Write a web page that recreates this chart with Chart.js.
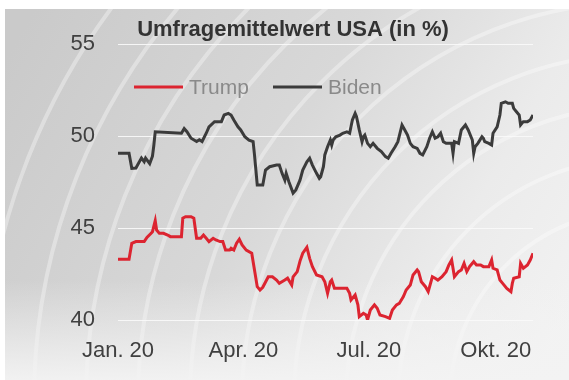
<!DOCTYPE html>
<html>
<head>
<meta charset="utf-8">
<script src="https://cdn.jsdelivr.net/npm/chart.js@4"></script>
<style>
  html, body { margin: 0; padding: 0; background: #fff; }
  #wrap { width: 569px; height: 380px; position: relative; }
</style>
</head>
<body>
<div id="wrap"><canvas id="umfrage" width="569" height="380"></canvas></div>
<script>
// Tage seit 1. Jan. 2020 und Umfragewerte (in %)
const bidenTage = [0,8,10,13,17,19,20,23,25,26,27,46,48,50,53,57,59,61,64,66,70,75,77,80,82,84,87,89,92,95,98,99,101,105,107,110,115,117,119,121,122,124,127,129,132,134,137,139,141,144,146,147,149,150,152,154,155,156,158,161,163,166,168,170,172,173,175,177,178,179,181,183,185,188,191,194,196,198,201,203,206,208,210,212,214,217,219,221,224,226,228,230,232,234,236,238,242,243,244,247,249,252,254,257,258,259,261,264,265,266,269,271,272,275,277,278,281,283,286,287,289,291,292,294,297,299,301];
const bidenWerte = [49.06,49.06,48.24,48.26,48.8,48.6,48.8,48.5,48.9,49.5,50.23,50.15,50.4,50.23,49.88,49.7,49.8,49.7,50.15,50.5,50.78,50.78,51.14,51.23,51.14,50.87,50.5,50.33,49.96,49.78,49.7,48.97,47.34,47.34,48.15,48.33,48.42,48.42,47.97,47.6,47.97,47.5,46.9,47.07,47.6,48.15,48.6,48.79,48.42,47.97,47.7,47.79,48.33,48.97,49.42,49.78,49.51,49.78,49.96,50.05,50.15,50.23,50.15,50.87,51.23,51.05,50.33,49.69,49.96,50.05,49.6,49.42,49.6,49.33,49.15,48.88,48.79,49.06,49.42,49.69,50.6,50.33,50.05,49.6,49.42,49.33,49.06,48.97,49.42,49.88,50.23,49.88,49.96,50.15,49.69,49.6,49.6,49.06,49.69,49.6,50.33,50.6,50.33,49.78,49.06,49.42,49.6,49.96,49.88,49.69,49.6,49.51,50.15,50.5,51.14,51.78,51.86,51.78,51.78,51.5,51.32,51.14,50.6,50.78,50.78,50.87,51.14];

const trumpTage = [0,8,10,13,19,21,24,25,27,28,30,33,36,38,46,47,49,53,55,57,60,62,64,66,69,71,74,76,78,81,82,84,86,88,90,93,97,99,101,103,105,109,112,115,117,121,123,126,127,130,132,134,137,139,141,144,148,150,152,154,155,157,160,166,168,169,172,174,175,178,180,181,183,186,188,190,194,197,199,202,204,207,209,212,214,217,218,220,223,225,228,230,232,235,238,240,242,244,247,249,251,253,255,258,260,263,265,269,271,272,275,277,279,282,285,286,287,291,292,294,297,299,301];
const trumpWerte = [43.3,43.3,44.17,44.26,44.26,44.49,44.71,44.8,45.4,44.89,44.71,44.71,44.62,44.53,44.53,45.53,45.61,45.61,45.53,44.44,44.44,44.62,44.44,44.26,44.44,44.35,44.26,44.26,43.8,43.8,43.9,43.8,44.17,44.39,44.08,43.8,43.63,42.72,41.81,41.63,41.78,42.35,42.35,42.17,41.99,42.17,42.27,41.9,42.35,42.63,43.2,43.63,43.95,43.35,42.9,42.45,42.35,42.08,41.45,42.08,42.17,41.72,41.72,41.72,41.45,41.09,41.36,40.82,40.18,40.36,40.27,40.0,40.54,40.82,40.64,40.27,40.18,40.09,40.54,40.82,40.9,41.27,41.63,41.9,42.45,42.72,42.63,42.08,41.81,41.54,42.35,42.27,42.17,42.35,42.63,42.99,43.26,42.35,42.63,42.72,43.08,42.63,42.9,43.17,42.99,42.99,42.9,42.9,43.26,42.81,42.72,42.17,41.99,41.72,41.54,41.99,42.27,42.35,43.08,42.81,42.99,43.26,43.63];

const quartalTage = [0, 91, 182, 274];
const quartalLabels = ['Jan. 20', 'Apr. 20', 'Jul. 20', 'Okt. 20'];
const yTicks = [40, 45, 50, 55];

const punkte = (tage, werte) => tage.map((t, i) => ({ x: t, y: werte[i] }));

// Hintergrund: graues Architekturbild nachgeahmt
const hintergrund = {
  id: 'hintergrund',
  beforeDraw(chart) {
    const ctx = chart.ctx;
    ctx.save();
    const g = ctx.createLinearGradient(5, 60, 560, 380);
    g.addColorStop(0, '#cacaca');
    g.addColorStop(0.45, '#d8d8d8');
    g.addColorStop(0.75, '#ebebeb');
    g.addColorStop(1, '#f3f3f3');
    ctx.fillStyle = g;
    ctx.fillRect(5, 9, 564, 371);
    ctx.beginPath();
    ctx.rect(5, 9, 564, 371);
    ctx.clip();
    ctx.strokeStyle = 'rgba(255,255,255,0.35)';
    for (let r = 190; r <= 660; r += 52) {
      ctx.lineWidth = 4;
      ctx.beginPath();
      ctx.arc(640, 400, r, Math.PI, 1.5 * Math.PI);
      ctx.stroke();
    }
    // heller Boden unten
    const b = ctx.createLinearGradient(0, 280, 0, 380);
    b.addColorStop(0, 'rgba(243,243,243,0)');
    b.addColorStop(1, 'rgba(243,243,243,0.95)');
    ctx.fillStyle = b;
    ctx.fillRect(5, 280, 564, 100);
    ctx.restore();
  }
};

// Titel und Legende im Diagramm
const beschriftung = {
  id: 'beschriftung',
  afterDraw(chart) {
    const ctx = chart.ctx;
    ctx.save();
    ctx.font = 'bold 22px "Liberation Sans", Arial, sans-serif';
    ctx.fillStyle = '#333';
    ctx.textAlign = 'center';
    ctx.textBaseline = 'middle';
    ctx.fillText('Umfragemittelwert USA (in %)', 293, 30);

    const pos = [134, 273];
    ctx.font = '21px "Liberation Sans", Arial, sans-serif';
    ctx.textAlign = 'left';
    chart.data.datasets.forEach((ds, i) => {
      ctx.strokeStyle = ds.borderColor;
      ctx.lineWidth = 3;
      ctx.beginPath();
      ctx.moveTo(pos[i], 87);
      ctx.lineTo(pos[i] + 49, 87);
      ctx.stroke();
      ctx.fillStyle = '#8a8a8a';
      ctx.fillText(ds.label, pos[i] + 55, 88);
    });
    ctx.restore();
  }
};

new Chart('umfrage', {
  type: 'line',
  data: {
    datasets: [
      { label: 'Trump', data: punkte(trumpTage, trumpWerte), borderColor: '#dc2430', borderWidth: 3, pointRadius: 0, tension: 0 },
      { label: 'Biden', data: punkte(bidenTage, bidenWerte), borderColor: '#3b3b3b', borderWidth: 3, pointRadius: 0, tension: 0 }
    ]
  },
  options: {
    responsive: false,
    animation: false,
    layout: { padding: { top: 44, right: 36, bottom: 0, left: 0 } },
    plugins: { legend: { display: false }, title: { display: false }, tooltip: { enabled: false } },
    scales: {
      x: {
        type: 'linear', min: 0, max: 301,
        afterBuildTicks: s => { s.ticks = quartalTage.map(v => ({ value: v })); },
        afterFit: s => { s.height = 60; },
        ticks: {
          callback: (v) => quartalLabels[quartalTage.indexOf(v)],
          color: '#404040', padding: 10, maxRotation: 0, autoSkip: false,
          font: { family: '"Liberation Sans", Arial, sans-serif', size: 22 }
        },
        grid: { display: false },
        border: { display: false }
      },
      y: {
        min: 40, max: 55,
        afterBuildTicks: s => { s.ticks = yTicks.map(v => ({ value: v })); },
        afterFit: s => { s.width = 118; },
        ticks: {
          color: '#404040', padding: 23,
          font: { family: '"Liberation Sans", Arial, sans-serif', size: 22 }
        },
        grid: { color: 'rgba(250,250,250,0.9)', lineWidth: 1, drawTicks: false },
        border: { display: false }
      }
    }
  },
  plugins: [hintergrund, beschriftung]
});
</script>
</body>
</html>
